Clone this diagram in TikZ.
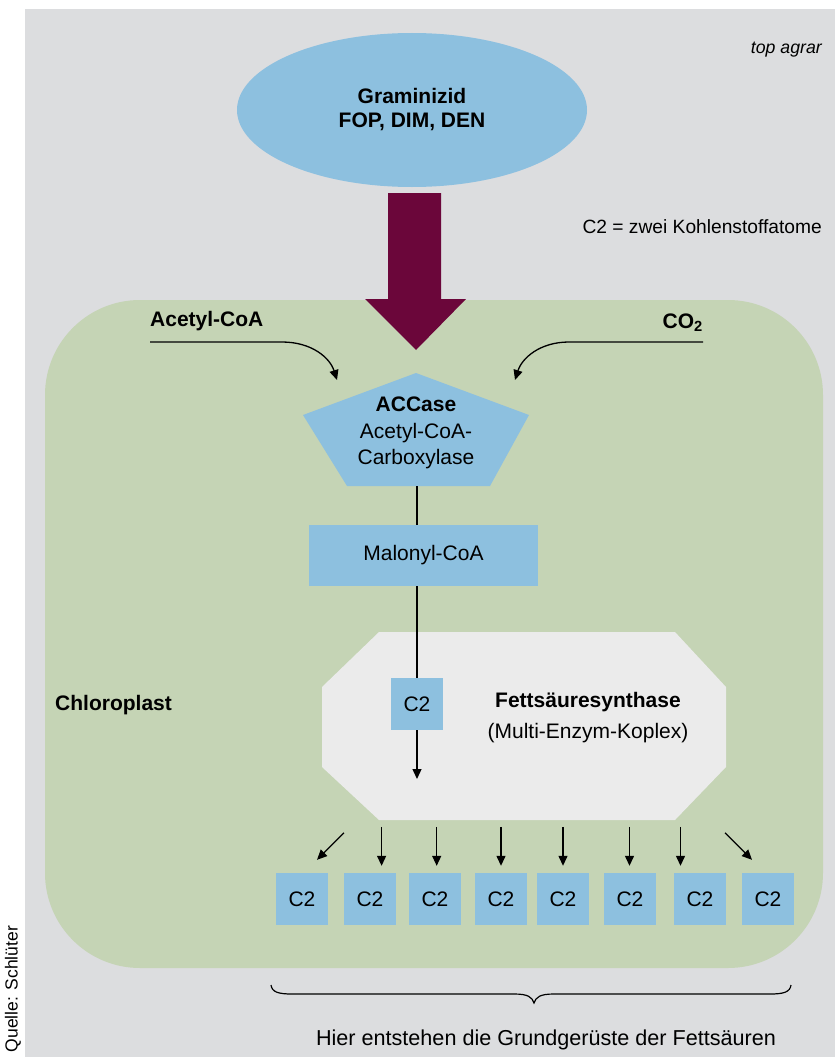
\documentclass[tikz,border=0pt]{standalone}
\usepackage{fontspec}
\setmainfont{Liberation Sans}
\usetikzlibrary{shapes.geometric,arrows.meta,calc}
\definecolor{bgG}{HTML}{DCDDDF}
\definecolor{chlG}{HTML}{C5D4B5}
\definecolor{bluC}{HTML}{8DC0DF}
\definecolor{octG}{HTML}{EBEBEB}
\definecolor{marC}{HTML}{6B063A}
\begin{document}
\begin{tikzpicture}[x=1pt,y=-1pt,
  txt/.style={inner sep=0pt,font=\fontsize{21.6}{25}\selectfont},
  btxt/.style={inner sep=0pt,font=\fontsize{21}{25}\selectfont\bfseries},
  cbox/.style={fill=bluC,inner sep=0pt,minimum width=52pt,minimum height=52pt,font=\fontsize{21}{25}\selectfont},
  ln/.style={line width=1.3pt,black},
  arr/.style={line width=1.3pt,black,-{Triangle[length=10pt,width=9pt]}}]
\useasboundingbox (0,0) rectangle (835,1057);
% backgrounds
\fill[bgG] (25,9) rectangle (835,1057);
\fill[chlG,rounded corners=95pt] (45,300) rectangle (823,968);
% herbicide ellipse
\node[ellipse,fill=bluC,minimum width=350pt,minimum height=154pt,inner sep=0pt,
      align=center,font=\fontsize{21}{24}\selectfont\bfseries] (gram) at (412,110)
      {Graminizid\\FOP, DIM, DEN};
% big arrow
\fill[marC] (388,193) -- (441,193) -- (441,299) -- (466,299) -- (416,350)
            -- (365,299) -- (388,299) -- cycle;
% texts top right
\node[inner sep=0pt,anchor=east,font=\fontsize{17.7}{20}\selectfont\itshape] (topag) at (822,50) {top agrar};
\node[inner sep=0pt,anchor=east,font=\fontsize{19.2}{22}\selectfont] (legend) at (822,227) {C2 = zwei Kohlenstoffatome};
% substrates
\node[btxt,anchor=west] (acet) at (150,321) {Acetyl-CoA};
\node[btxt,anchor=east] (co2) at (703,323) {CO\textsubscript{2}};
\coordinate (aL) at (150,342);
\coordinate (aM) at (282,342);
\coordinate (aT) at (337,380);
\coordinate (cR) at (703,342);
\coordinate (cM) at (569,342);
\coordinate (cT) at (515,380);
\draw[arr] (aL) -- (aM) .. controls (312,342) and (330,358) .. (aT);
\draw[arr] (cR) -- (cM) .. controls (540,342) and (522,358) .. (cT);
% ACCase pentagon
\fill[bluC] (416,373) -- (529,415) -- (490,486) -- (347,486) -- (303,415) -- cycle;
\node[inner sep=0pt,align=center,font=\fontsize{21}{26.5}\selectfont] (acc) at (416,433)
   {\textbf{ACCase}\\Acetyl-CoA-\\Carboxylase};
\coordinate (accb) at (417,486);
% Malonyl-CoA
\node[fill=bluC,inner sep=0pt,minimum width=229pt,minimum height=61pt,
      font=\fontsize{21}{25}\selectfont] (malo) at (423.5,555.5) {Malonyl-CoA};
\draw[ln] (accb) -- (malo.north -| accb);
% Fettsaeuresynthase octagon
\fill[octG] (379,632) -- (675,632) -- (726,687) -- (726,767) -- (675,820)
            -- (379,820) -- (322,767) -- (322,687) -- cycle;
\node[cbox] (c2s) at (417,704) {C2};
\draw[ln] (malo.south -| c2s) -- (c2s.north);
\coordinate (fsEnd) at (417,779);
\draw[arr] (c2s.south) -- (fsEnd);
\node[inner sep=0pt,align=center,font=\fontsize{21}{31}\selectfont] (fas) at (588,718)
   {\textbf{Fettsäuresynthase}\\(Multi-Enzym-Koplex)};
\node[btxt,anchor=west] (chl) at (55,705) {Chloroplast};
% bottom C2 row
\node[cbox] (b1) at (302,899) {C2};
\node[cbox] (b2) at (370,899) {C2};
\node[cbox] (b3) at (435,899) {C2};
\node[cbox] (b4) at (501,899) {C2};
\node[cbox] (b5) at (563,899) {C2};
\node[cbox] (b6) at (630,899) {C2};
\node[cbox] (b7) at (700,899) {C2};
\node[cbox] (b8) at (768,899) {C2};
\draw[arr] ($(b1.north)+(42,-40)$) -- ($(b1.north)+(15,-13)$);
\draw[arr] ($(b2.north)+(11.6,-46)$) -- ($(b2.north)+(11.6,-7)$);
\draw[arr] ($(b3.north)+(1.7,-46)$) -- ($(b3.north)+(1.7,-7)$);
\draw[arr] ($(b4.north)+(0,-46)$) -- ($(b4.north)+(0,-7)$);
\draw[arr] ($(b5.north)+(0,-46)$) -- ($(b5.north)+(0,-7)$);
\draw[arr] ($(b6.north)+(-0.5,-46)$) -- ($(b6.north)+(-0.5,-7)$);
\draw[arr] ($(b7.north)+(-19.5,-46)$) -- ($(b7.north)+(-19.5,-7)$);
\draw[arr] ($(b8.north)+(-43,-40)$) -- ($(b8.north)+(-16,-13)$);
% brace
\draw[ln,line width=1.2pt] (271,985) .. controls (272,992) and (278,994) .. (292,994)
   -- (514,994) .. controls (528,994) and (532,997) .. (534,1003)
   .. controls (536,997) and (540,994) .. (554,994)
   -- (770,994) .. controls (784,994) and (790,992) .. (791,985);
\node[txt] (note) at (546,1040) {Hier entstehen die Grundgerüste der Fettsäuren};
% source
\node[inner sep=0pt,rotate=90,font=\fontsize{17.5}{20}\selectfont] (src) at (13,989) {Quelle: Schlüter};
\end{tikzpicture}
\end{document}
